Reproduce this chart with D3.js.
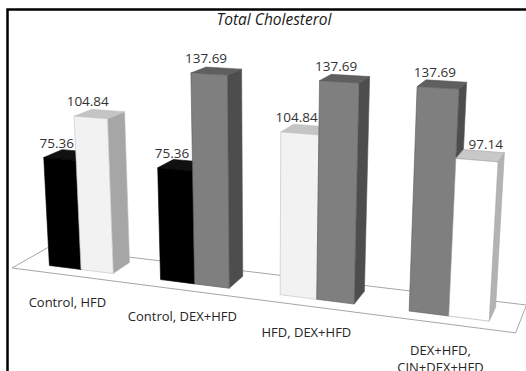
<!DOCTYPE html>
<html>
<head>
<meta charset="utf-8">
<script src="https://cdn.jsdelivr.net/npm/d3@7/dist/d3.min.js"></script>
<style>
  html, body { margin: 0; padding: 0; background: #fff; }
  svg { display: block; font-family: "Open Sans", sans-serif; }
</style>
</head>
<body>
<div id="chart"></div>
<script>
// --- Data ---
const title = "Total Cholesterol";
const categories = ["Control, HFD", "Control, DEX+HFD", "HFD, DEX+HFD", "DEX+HFD, CIN+DEX+HFD"];
const leftGroups = ["Control", "Control", "HFD", "DEX+HFD"];
const leftValues = [75.36, 75.36, 104.84, 137.69];
const rightGroups = ["HFD", "DEX+HFD", "DEX+HFD", "CIN+DEX+HFD"];
const rightValues = [104.84, 137.69, 137.69, 97.14];
const treatments = ["Control", "HFD", "DEX+HFD", "CIN+DEX+HFD"];

const width = 526, height = 371;

// face colours per treatment: front, side, top
const frontColor = d3.scaleOrdinal(treatments, ["#000000", "#f2f2f2", "#7f7f7f", "#ffffff"]);
const sideColor = d3.scaleOrdinal(treatments, ["#000000", "#a6a6a6", "#4d4d4d", "#b3b3b3"]);
const topColor = d3.scaleOrdinal(treatments, ["#111111", "#c4c4c4", "#5f5f5f", "#c8c8c8"]);
const edgeColor = d3.scaleOrdinal(treatments, ["#000000", "#bfbfbf", "#595959", "#a6a6a6"]);

// --- 3D world (floor units) ---
const floorW = 437, floorD = 62;
const barW = 31.5, barD = 31.5, barZ = 17;

const x0 = d3.scaleBand().domain(categories).range([5, 437]);
const y = d3.scaleLinear().domain([0, 160]).range([0, 208.6]);

// perspective camera
const cam = {
  cx: 265, cy: 190, f: 1138,
  pitch: 15.2 * Math.PI / 180,
  yaw: 19.9 * Math.PI / 180,
  o: [-222.3, -328.3, 947.0]
};

function project(X, Y, Z) {
  const cy = Math.cos(cam.yaw), sy = Math.sin(cam.yaw);
  const cp = Math.cos(cam.pitch), sp = Math.sin(cam.pitch);
  const a = cam.o[0] + X * cy + Z * sy;
  const b = cam.o[1] + Y;
  const c = cam.o[2] - X * sy + Z * cy;
  const yc = b * cp + c * sp;
  const zc = -b * sp + c * cp;
  return [cam.cx + cam.f * a / zc, cam.cy - cam.f * yc / zc];
}

const svg = d3.select("#chart").append("svg")
  .attr("width", width).attr("height", height);

// chart frame
svg.append("rect")
  .attr("x", 7.5).attr("y", 9.5)
  .attr("width", width + 20).attr("height", height + 20)
  .attr("fill", "#fff").attr("stroke", "#000").attr("stroke-width", 2.5);

svg.append("text")
  .attr("x", 274).attr("y", 25)
  .attr("text-anchor", "middle")
  .attr("font-size", 15.5).attr("font-style", "italic")
  .attr("fill", "#1a1a1a")
  .text(title);

const line = pts => "M" + pts.map(p => p.join(",")).join("L") + "Z";

// floor
svg.append("path")
  .attr("d", line([project(0, 0, 0), project(floorW, 0, 0), project(floorW, 0, floorD), project(0, 0, floorD)]))
  .attr("fill", "#fff").attr("stroke", "#a6a6a6").attr("stroke-width", 1);

// bars
const bars = [];
categories.forEach((c, i) => {
  const mid = x0(c) + x0.bandwidth() / 2;
  bars.push({ cat: c, group: leftGroups[i], value: leftValues[i], x: mid - barW });
  bars.push({ cat: c, group: rightGroups[i], value: rightValues[i], x: mid });
});
bars.sort((a, b) => a.x - b.x);

const barG = svg.append("g");
bars.forEach(d => {
  const h = y(d.value), x1 = d.x, x2 = d.x + barW, z1 = barZ, z2 = barZ + barD;
  const g = barG.append("g");
  const stroke = edgeColor(d.group);
  g.append("path") // right side
    .attr("d", line([project(x2, 0, z1), project(x2, 0, z2), project(x2, h, z2), project(x2, h, z1)]))
    .attr("fill", sideColor(d.group)).attr("stroke", stroke).attr("stroke-width", 0.6);
  g.append("path") // top
    .attr("d", line([project(x1, h, z1), project(x2, h, z1), project(x2, h, z2), project(x1, h, z2)]))
    .attr("fill", topColor(d.group)).attr("stroke", stroke).attr("stroke-width", 0.6);
  g.append("path") // front
    .attr("d", line([project(x1, 0, z1), project(x2, 0, z1), project(x2, h, z1), project(x1, h, z1)]))
    .attr("fill", frontColor(d.group)).attr("stroke", stroke).attr("stroke-width", 0.6);
});

// value labels, above the front top edge of each bar;
// pushed right when a taller neighbour on the left would cover them
bars.forEach((d, i) => {
  const p = project(d.x + barW / 2, y(d.value), barZ);
  const t = svg.append("text")
    .attr("x", p[0] - 3).attr("y", p[1] - 11)
    .attr("text-anchor", "middle")
    .attr("font-size", 13.5).attr("fill", "#333")
    .text(d.value.toFixed(2));
  const prev = bars[i - 1];
  if (prev && prev.x + barW === d.x && prev.value > d.value) {
    const edge = project(prev.x + barW, y(d.value), barZ + barD)[0];
    const box = t.node().getBBox();
    if (box.x < edge + 5) t.attr("x", p[0] - 3 + (edge + 5 - box.x));
  }
});

// category labels, wrapped when too long
categories.forEach(c => {
  const p = project(x0(c) + x0.bandwidth() / 2, 0, 0);
  const t = svg.append("text")
    .attr("text-anchor", "middle")
    .attr("font-size", 13).attr("fill", "#262626");
  const words = c.split(" ");
  let lines = [c];
  if (c.length > 17) {
    const cut = words.findIndex(w => w.endsWith(",")) + 1;
    lines = [words.slice(0, cut).join(" "), words.slice(cut).join(" ")];
  }
  lines.forEach((ln, k) => {
    t.append("tspan")
      .attr("x", p[0] - 4).attr("y", p[1] + 31 + k * 17)
      .text(ln);
  });
});
</script>
</body>
</html>
